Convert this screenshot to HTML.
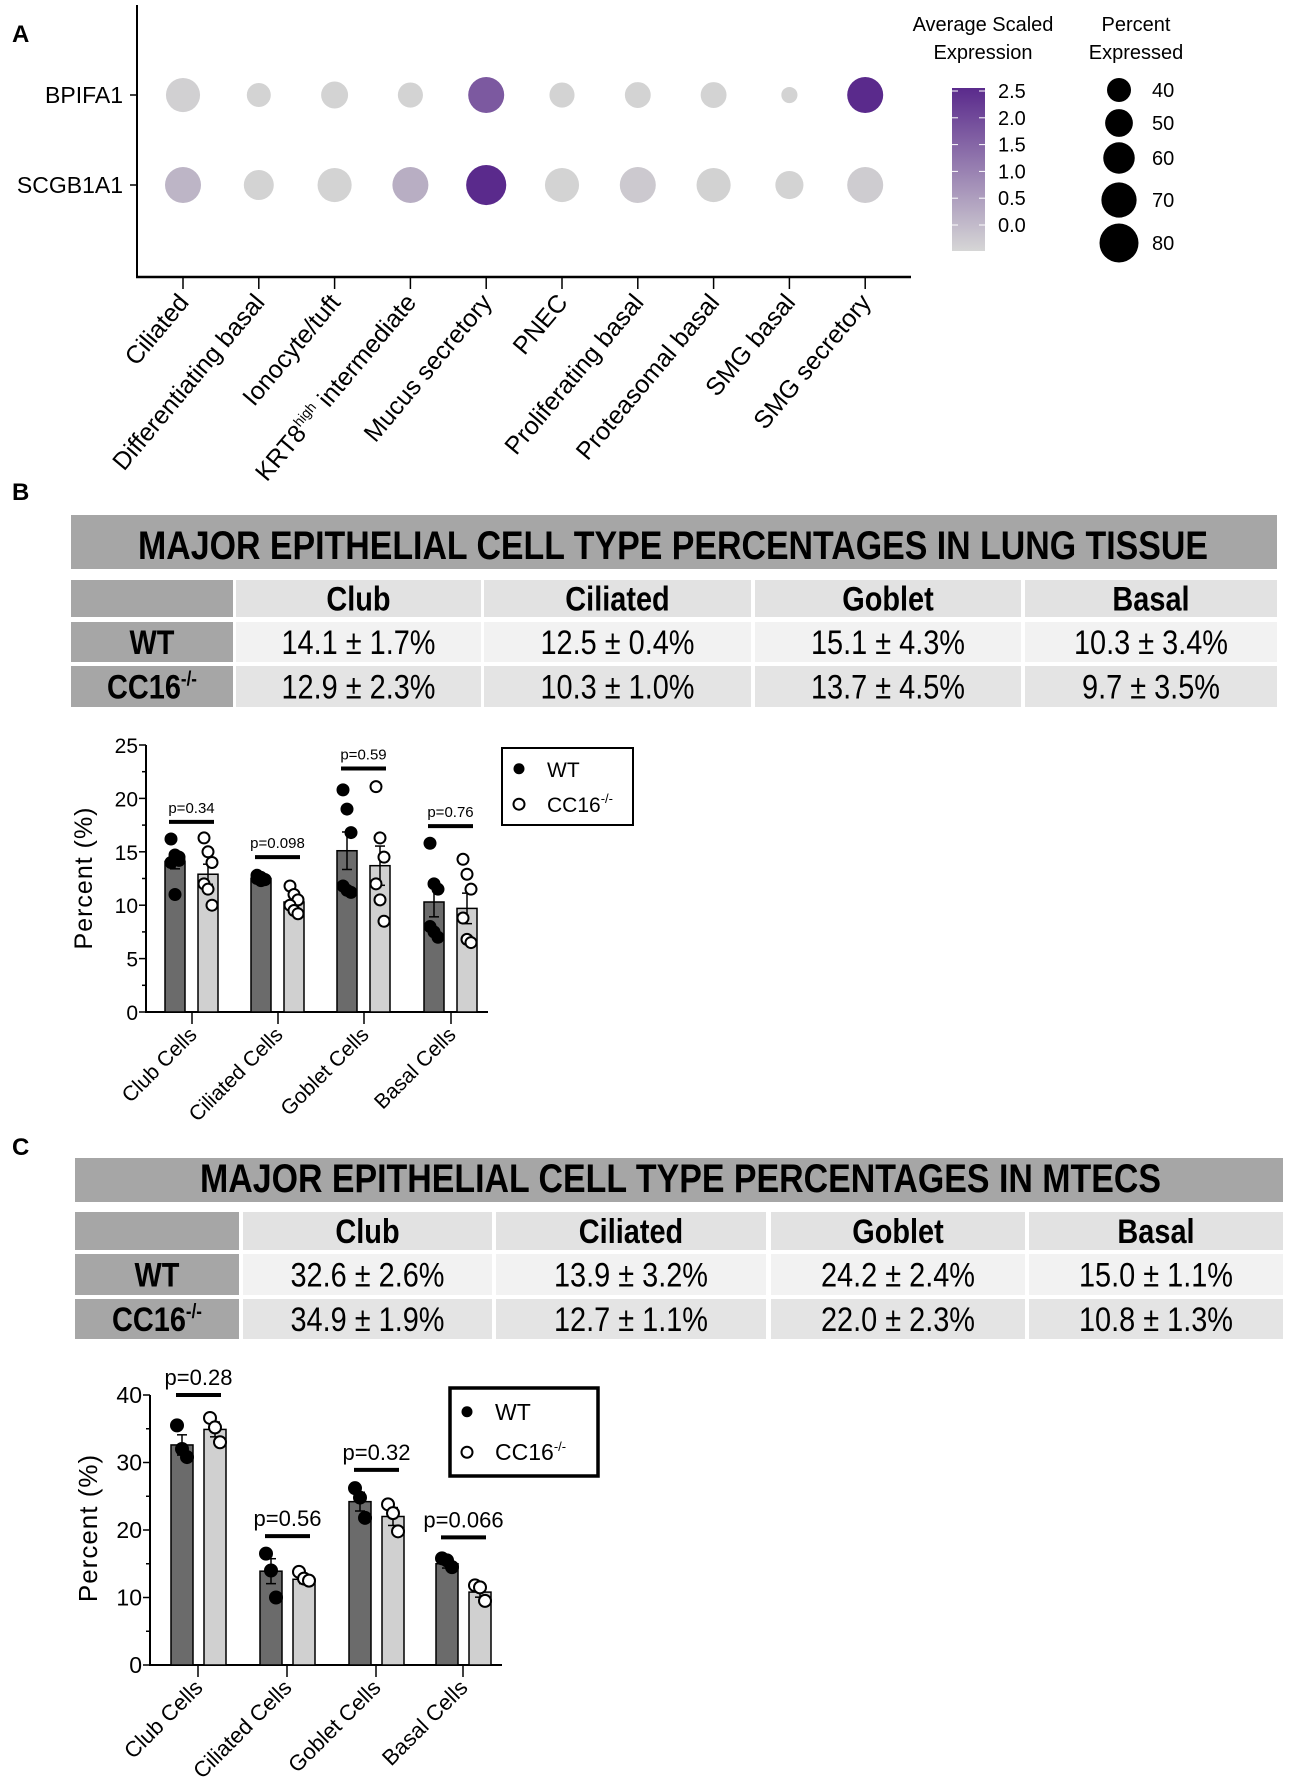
<!DOCTYPE html>
<html><head><meta charset="utf-8"><style>
html,body{margin:0;padding:0;background:#fff;}
svg{display:block;font-family:"Liberation Sans",sans-serif;}
</style></head><body>
<svg id="fig" width="1299" height="1780" viewBox="0 0 1299 1780" xmlns="http://www.w3.org/2000/svg">
<defs><linearGradient id="cbar" x1="0" y1="1" x2="0" y2="0"><stop offset="0" stop-color="#d6d6d6"/><stop offset="1" stop-color="#5a2a8c"/></linearGradient></defs>
<text x="12" y="42" font-size="24" font-weight="bold">A</text>
<text x="12" y="500" font-size="24" font-weight="bold">B</text>
<text x="12" y="1155" font-size="24" font-weight="bold">C</text>
<g id="pa"></g>
<g id="tb"></g>
<g id="tc"></g>
<g id="cb"></g>
<g id="cc"></g>
</svg>
<script>
// ---- Panel A data ----
const cellTypes = ["Ciliated","Differentiating basal","Ionocyte/tuft","KRT8high intermediate","Mucus secretory","PNEC","Proliferating basal","Proteasomal basal","SMG basal","SMG secretory"];
const genes = ["BPIFA1","SCGB1A1"];
const pctBPIFA1 = [67,40,48,43,72,43,45,45,19,72];
const pctSCGB1A1 = [72,56,67,72,83,67,72,67,51,72];
const exprBPIFA1 = [0.05,0,0,0,1.8,0,0,0,0,2.5];
const exprSCGB1A1 = [0.45,0,0,0.55,2.5,0,0.15,0.02,0,0.1];
const colorTicks = ["2.5","2.0","1.5","1.0","0.5","0.0"];
const sizeLegend = [40,50,60,70,80];
// ---- Panel B data ----
const groupsB = ["Club Cells","Ciliated Cells","Goblet Cells","Basal Cells"];
const meanWT_B = [14.1,12.5,15.1,10.3];
const meanKO_B = [12.9,10.3,13.7,9.7];
const sdWT_B = [1.7,0.4,4.3,3.4];
const sdKO_B = [2.3,1.0,4.5,3.5];
const ptsWT_B = [[16.2,14.7,14.5,14.0,11.0,14.2],[12.8,12.6,12.4,12.5,12.3,12.4],[20.8,19.0,16.8,11.8,11.4,11.2],[15.8,12.0,11.5,8.0,7.5,7.0]];
const ptsKO_B = [[16.3,15.0,14.0,12.0,11.5,10.0],[11.8,11.0,10.5,10.0,9.5,9.2],[21.1,16.3,14.5,12.0,10.5,8.5],[14.3,12.9,11.5,8.8,6.8,6.5]];
const pLabelsB = ["p=0.34","p=0.098","p=0.59","p=0.76"];
const pLevelB = [17.8,14.5,22.8,17.4];
const ticksB = [0,5,10,15,20,25];
// ---- Panel C data ----
const meanWT_C = [32.6,13.9,24.2,15.0];
const meanKO_C = [34.9,12.7,22.0,10.8];
const sdWT_C = [2.6,3.2,2.4,1.1];
const sdKO_C = [1.9,1.1,2.3,1.3];
const ptsWT_C = [[35.5,32.0,30.8],[16.5,14.0,10.0],[26.2,24.8,21.8],[15.8,15.5,14.5]];
const ptsKO_C = [[36.6,35.2,33.0],[13.8,12.8,12.5],[23.8,22.5,19.8],[11.8,11.5,9.5]];
const pLabelsC = ["p=0.28","p=0.56","p=0.32","p=0.066"];
const pLevelC = [40,19.1,28.9,18.9];
const ticksC = [0,10,20,30,40];
// ---- Tables ----
const colHeads = ["Club","Ciliated","Goblet","Basal"];
const lungWT = ["14.1 ± 1.7%","12.5 ± 0.4%","15.1 ± 4.3%","10.3 ± 3.4%"];
const lungKO = ["12.9 ± 2.3%","10.3 ± 1.0%","13.7 ± 4.5%","9.7 ± 3.5%"];
const mtecWT = ["32.6 ± 2.6%","13.9 ± 3.2%","24.2 ± 2.4%","15.0 ± 1.1%"];
const mtecKO = ["34.9 ± 1.9%","12.7 ± 1.1%","22.0 ± 2.3%","10.8 ± 1.3%"];

const NS="http://www.w3.org/2000/svg";
function mk(parent,tag,attrs,txt){const e=document.createElementNS(NS,tag);for(const k in attrs)e.setAttribute(k,attrs[k]);if(txt!==undefined)e.textContent=txt;parent.appendChild(e);return e;}

// ===== Panel A =====
(function(){
const g=document.getElementById('pa');
const xA=i=>183+i*75.8;
const yA=j=>[95,185][j];
const rA=p=>4.5+p*0.1875;
const cLo=[211,211,211],cHi=[90,42,140];
const col=v=>{let t=v/2.5;t=Math.max(0,Math.min(1,t));return 'rgb('+cLo.map((c,k)=>Math.round(c+(cHi[k]-c)*t)).join(',')+')';};
let e;
e=mk(g,'line',{x1:137,y1:5,x2:137,y2:277,stroke:'#000','stroke-width':2});


e=mk(g,'line',{x1:136,y1:277,x2:911,y2:277,stroke:'#000','stroke-width':2.5});


genes.forEach((gn,j)=>{
 mk(g,'line',{x1:130,y1:yA(j),x2:137,y2:yA(j),stroke:'#000','stroke-width':1.5});
 e=mk(g,'text',{x:123,y:yA(j)+8,'font-size':23,'text-anchor':'end'},gn);
 
 
});
const pcts=[pctBPIFA1,pctSCGB1A1],exprs=[exprBPIFA1,exprSCGB1A1];
cellTypes.forEach((ct,i)=>{
 mk(g,'line',{x1:xA(i),y1:277,x2:xA(i),y2:289,stroke:'#000','stroke-width':1.5});
 const t=mk(g,'text',{transform:`translate(${xA(i)+7},${303}) rotate(-50)`,'font-size':25,'text-anchor':'end'});
 
 
 if(ct.indexOf('high')>=0){t.appendChild(document.createTextNode('KRT8'));mk(t,'tspan',{'font-size':14,dy:-10},'high');mk(t,'tspan',{dy:10},' intermediate');}
 else t.textContent=ct;
 for(let j=0;j<2;j++){
  e=mk(g,'circle',{cx:xA(i),cy:yA(j),r:rA(pcts[j][i]),fill:col(exprs[j][i])});
  
  
 }
});
e=mk(g,'text',{x:983,y:31,'font-size':20,'text-anchor':'middle'},'Average Scaled');


mk(g,'text',{x:983,y:59,'font-size':20,'text-anchor':'middle'},'Expression');
e=mk(g,'rect',{x:952,y:88,width:33,height:163,fill:'url(#cbar)'});


colorTicks.forEach((tk,k)=>{const y=91+k*26.8;
 mk(g,'line',{x1:952,y1:y,x2:958,y2:y,stroke:'#fff','stroke-width':1});
 mk(g,'line',{x1:979,y1:y,x2:985,y2:y,stroke:'#fff','stroke-width':1});
 e=mk(g,'text',{x:998,y:y+7,'font-size':20},tk);
 
 
});
e=mk(g,'text',{x:1136,y:31,'font-size':20,'text-anchor':'middle'},'Percent');


mk(g,'text',{x:1136,y:59,'font-size':20,'text-anchor':'middle'},'Expressed');
const ly=[90,123,158,200,243];
sizeLegend.forEach((p,k)=>{
 e=mk(g,'circle',{cx:1119,cy:ly[k],r:rA(p),fill:'#000'});
 
 
 mk(g,'text',{x:1152,y:ly[k]+7,'font-size':20},String(p));
});
})();

// ===== Tables =====
function table(id,title,bar,tx,rows,cols,wt,ko){
 const g=document.getElementById(id);let e;
 e=mk(g,'rect',{x:bar[0],y:bar[1],width:bar[2]-bar[0],height:bar[3]-bar[1],fill:'#a6a6a6'});
 
 
 e=mk(g,'text',{x:tx[0],y:bar[3]-10,'font-size':40,'font-weight':'bold',textLength:tx[1]-tx[0],lengthAdjust:'spacingAndGlyphs'},title);
 
 
 const fills=[['#a6a6a6','#e2e2e2'],['#a6a6a6','#f2f2f2'],['#a6a6a6','#e4e4e4']];
 const contents=[[''].concat(colHeads),['WT'].concat(wt),['CC16'].concat(ko)];
 rows.forEach((r,ri)=>{
  cols.forEach((c,ci)=>{
   const f=ci===0?fills[ri][0]:fills[ri][1];
   e=mk(g,'rect',{x:c[0],y:r[0],width:c[1]-c[0],height:r[1]-r[0],fill:f});
   
   
   const txt=contents[ri][ci];if(!txt)return;
   const cx=(c[0]+c[1])/2,cy=(r[0]+r[1])/2+12;
   const bold=(ri===0||ci===0);
   const t=mk(g,'text',{x:cx,y:cy,'font-size':34,'font-weight':bold?'bold':'normal','text-anchor':'middle',transform:`translate(${cx},0) scale(0.85,1) translate(${-cx},0)`});
   
   
   t.textContent=txt;
   if(ri===2&&ci===0)mk(t,'tspan',{'font-size':20,dy:-13},'-/-');
  });
 });
}
table('tb','MAJOR EPITHELIAL CELL TYPE PERCENTAGES IN LUNG TISSUE',[71,515,1277,569],[138,1208],
 [[580,617],[622,662],[666,707]],[[71,233],[236,481],[484,751],[755,1021],[1025,1277]],lungWT,lungKO);
table('tc','MAJOR EPITHELIAL CELL TYPE PERCENTAGES IN MTECS',[75,1158,1283,1202],[200,1161],
 [[1212,1250],[1254,1295],[1299,1339]],[[75,239],[243,492],[496,766],[771,1025],[1029,1283]],mtecWT,mtecKO);

// ===== Bar charts =====
function barChart(id,o,mW,mK,sW,sK,pW,pK,pl,plev,ticks){
 const g=document.getElementById(id);let e;
 const y=v=>o.y0-(v/o.vmax)*(o.y0-o.y1);
 const n=pW[0].length;
 e=mk(g,'line',{x1:o.ax,y1:o.y1,x2:o.ax,y2:o.y0+1,stroke:'#000','stroke-width':2});
 
 
 e=mk(g,'line',{x1:o.ax-1,y1:o.y0,x2:o.xe,y2:o.y0,stroke:'#000','stroke-width':2});
 
 
 const step=ticks[1]-ticks[0];
 for(let v=0;v<=o.vmax+1e-9;v+=step/2){mk(g,'line',{x1:o.ax-(v%step===0?7:4),y1:y(v),x2:o.ax,y2:y(v),stroke:'#000','stroke-width':1.5});}
 ticks.forEach(t=>{e=mk(g,'text',{x:o.ax-8,y:y(t)+8,'font-size':o.fs,'text-anchor':'end'},String(t));
  
  });
 e=mk(g,'text',{transform:`translate(${o.ytx},${o.yty}) rotate(-90)`,'font-size':o.tfs,'text-anchor':'middle','letter-spacing':'1'},'Percent (%)');
 
 
 groupsB.forEach((gr,i)=>{
  const gx=o.gx[i];
  mk(g,'line',{x1:gx,y1:o.y0,x2:gx,y2:o.y0+12,stroke:'#000','stroke-width':1.5});
  e=mk(g,'text',{transform:`translate(${gx+6},${o.y0+24}) rotate(-45)`,'font-size':o.xfs,'text-anchor':'end'},gr);
  
  
  [[mW,sW,pW,o.dW,'#6b6b6b','wt'],[mK,sK,pK,o.dK,'#d0d0d0','ko']].forEach(([m,s,p,d,f,nm])=>{
   const cx=gx+d;
   e=mk(g,'rect',{x:cx-o.bw/2,y:y(m[i]),width:o.bw,height:o.y0-y(m[i]),fill:f,stroke:'#000','stroke-width':1.5});
   
   
   const se=s[i]/Math.sqrt(n);
   mk(g,'line',{x1:cx,y1:y(m[i]-se),x2:cx,y2:y(m[i]+se),stroke:'#000','stroke-width':1.5});
   mk(g,'line',{x1:cx-5,y1:y(m[i]+se),x2:cx+5,y2:y(m[i]+se),stroke:'#000','stroke-width':1.5});
   mk(g,'line',{x1:cx-5,y1:y(m[i]-se),x2:cx+5,y2:y(m[i]-se),stroke:'#000','stroke-width':1.5});
   p[i].forEach((v,k)=>{const jx=cx+((k%3)-1)*o.jit;
    e=mk(g,'circle',{cx:jx,cy:y(v),r:o.pr,fill:nm==='wt'?'#000':'#fff',stroke:'#000','stroke-width':2});
    
    });
  });
  const ly=y(plev[i]);
  e=mk(g,'line',{x1:gx+o.dW-6,y1:ly,x2:gx+o.dK+6,y2:ly,stroke:'#000','stroke-width':4});
  
  
  e=mk(g,'text',{x:gx+(o.dW+o.dK)/2,y:ly-o.pgap,'font-size':o.pfs,'text-anchor':'middle'},pl[i]);
  
  
 });
 const L=o.leg;
 e=mk(g,'rect',{x:L[0],y:L[1],width:L[2]-L[0],height:L[3]-L[1],fill:'#fff',stroke:'#000','stroke-width':L[4]});
 
 
 const r1=L[1]+(L[3]-L[1])*0.27,r2=L[1]+(L[3]-L[1])*0.73;
 mk(g,'circle',{cx:L[0]+17,cy:r1,r:5.5,fill:'#000'});
 e=mk(g,'text',{x:L[0]+45,y:r1+8,'font-size':o.lfs},'WT');
 
 
 mk(g,'circle',{cx:L[0]+17,cy:r2,r:5.5,fill:'#fff',stroke:'#000','stroke-width':2});
 e=mk(g,'text',{x:L[0]+45,y:r2+8,'font-size':o.lfs},'CC16');
 
 
 mk(e,'tspan',{'font-size':13,dy:-9},'-/-');
}
barChart('cb',{y0:1012,y1:745,vmax:25,ax:146,xe:488,gx:[192,278,364,451],dW:-17,dK:16,bw:20,fs:21,tfs:25,xfs:21,lfs:21,ytx:92,yty:878,jit:4,pr:5.5,pfs:15,pgap:9,leg:[502,748,633,825,2]},
 meanWT_B,meanKO_B,sdWT_B,sdKO_B,ptsWT_B,ptsKO_B,pLabelsB,pLevelB,ticksB);
barChart('cc',{y0:1665,y1:1395,vmax:40,ax:150,xe:502,gx:[198,287,376,463],dW:-16,dK:17,bw:22,fs:23,tfs:26,xfs:22,lfs:23,ytx:97,yty:1528,jit:5,pr:6,pfs:22,pgap:10,leg:[450,1388,598,1476,3.5]},
 meanWT_C,meanKO_C,sdWT_C,sdKO_C,ptsWT_C,ptsKO_C,pLabelsC,pLevelC,ticksC);
</script>
</body></html>
